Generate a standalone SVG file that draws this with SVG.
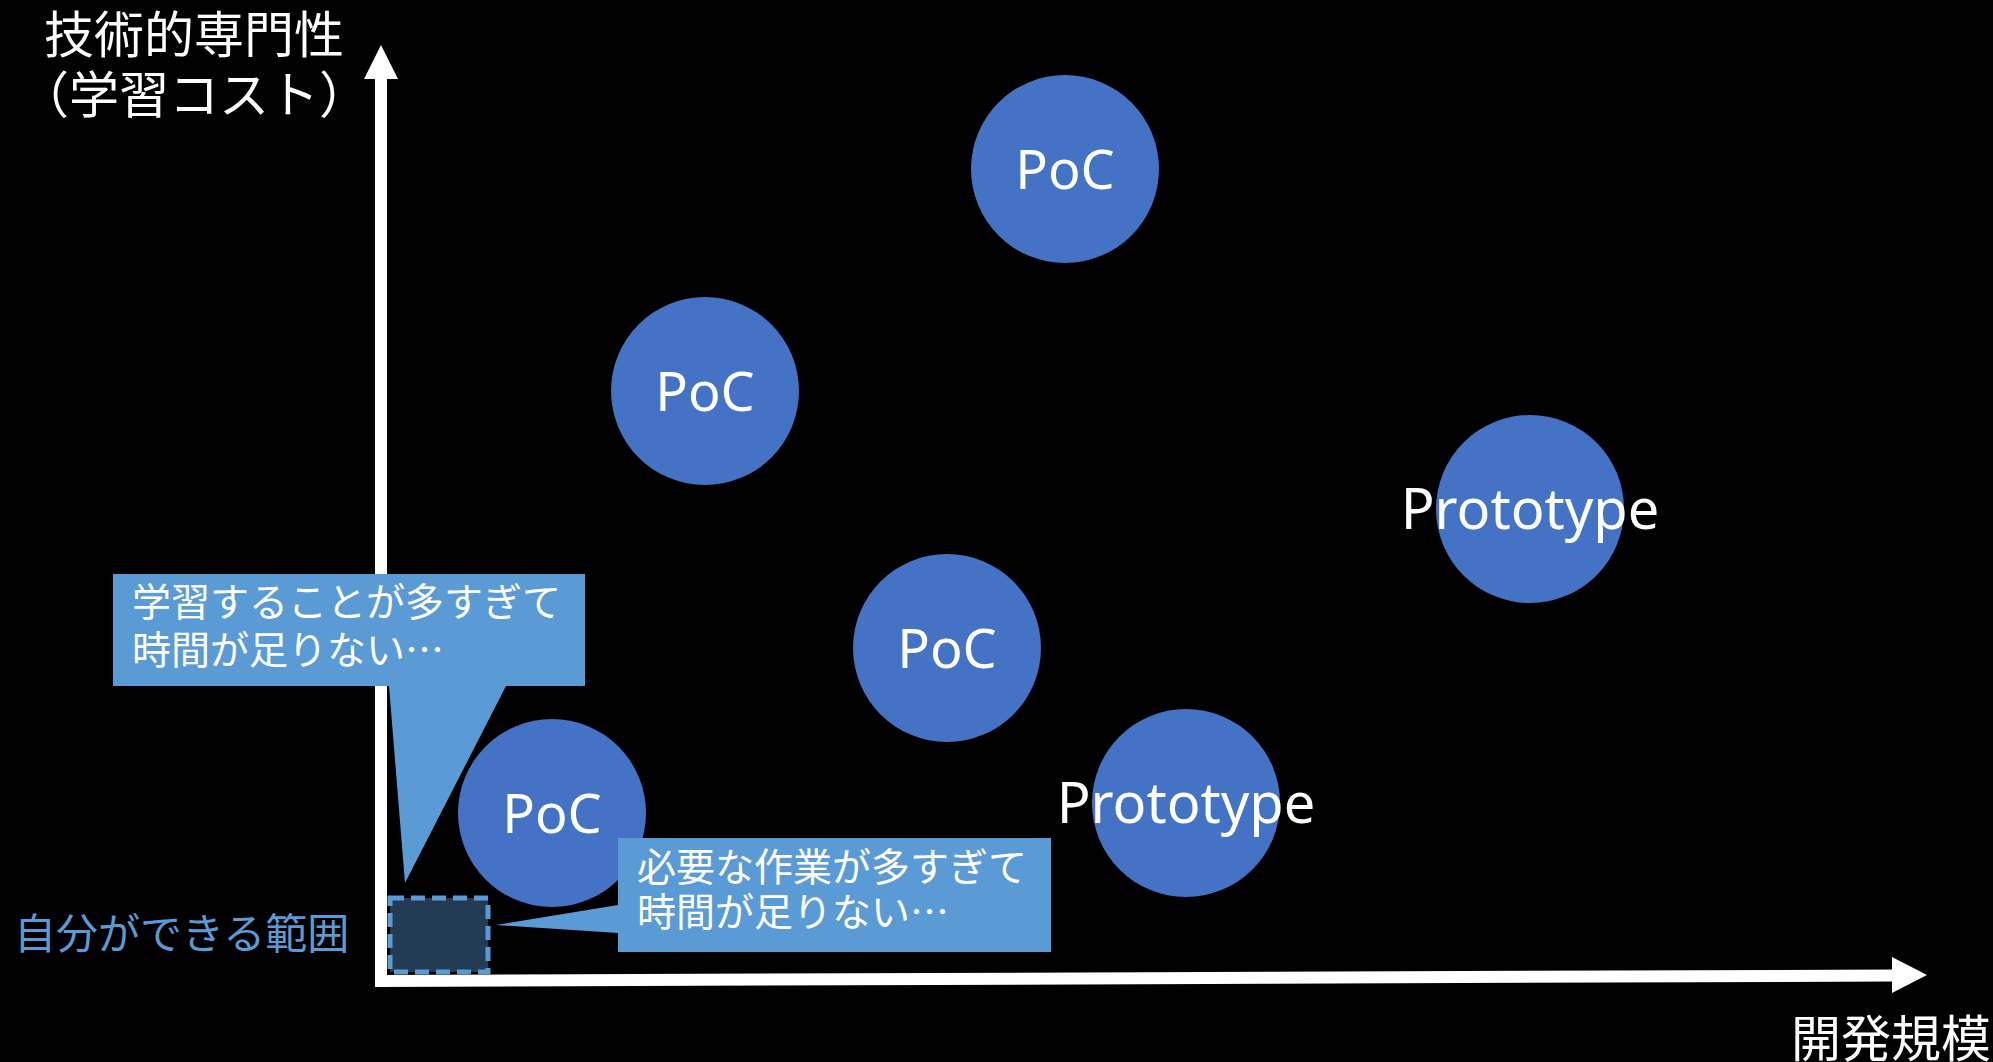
<svg xmlns="http://www.w3.org/2000/svg" width="1993" height="1062" viewBox="0 0 1993 1062">
<style>
.bg{fill:#000}
.node circle{fill:#4472C4}
.lbl{font-family:"Noto Sans","Open Sans",sans-serif;font-size:54px;fill:#fff;text-anchor:middle}
.lbl.wide{font-size:56px}
.jp{font-family:"Noto Sans CJK JP","Noto Sans",sans-serif;fill:#fff}
.callout{fill:#5B9BD5}
.axis{stroke:#fff;stroke-width:12;fill:none}
.head{fill:#fff}
</style>
<rect class="bg" x="0" y="0" width="1993" height="1062"/>
<g id="connectors">
  <line class="axis" x1="381" y1="987" x2="381" y2="75"/>
  <polygon class="head" points="381,45 364,79 398,79"/>
  <line class="axis" x1="375" y1="981" x2="1895" y2="975.5"/>
  <polygon class="head" points="1927,975 1892,957 1892,993"/>
</g>
<g id="axis-labels">
  <text class="jp" x="194" y="53" font-size="50" text-anchor="middle">技術的専門性</text>
  <text class="jp" x="194" y="113" font-size="50" text-anchor="middle">（学習コスト）</text>
  <text class="jp" x="1991" y="1057" font-size="50" text-anchor="end">開発規模</text>
</g>
<g id="node-poc-1" class="node"><circle cx="1065" cy="169" r="94"/><text class="lbl" x="1065" y="189">PoC</text></g>
<g id="node-poc-2" class="node"><circle cx="705" cy="391" r="94"/><text class="lbl" x="705" y="411">PoC</text></g>
<g id="node-prototype-1" class="node"><circle cx="1530" cy="509" r="94"/><text class="lbl wide" x="1530" y="529">Prototype</text></g>
<g id="node-poc-3" class="node"><circle cx="947" cy="648" r="94"/><text class="lbl" x="947" y="668">PoC</text></g>
<g id="node-prototype-2" class="node"><circle cx="1186" cy="803" r="94"/><text class="lbl wide" x="1186" y="823">Prototype</text></g>
<g id="node-poc-4" class="node"><circle cx="552" cy="813" r="94"/><text class="lbl" x="552" y="833">PoC</text></g>
<g id="node-own-range">
  <rect x="390" y="898" width="98" height="74" fill="#243C53" stroke="#5B9BD5" stroke-width="5" stroke-dasharray="14,7"/>
  <text x="14" y="949" font-family="Noto Sans CJK JP, Noto Sans, sans-serif" font-size="42" fill="#5B9BD5">自分ができる範囲</text>
</g>
<g id="callout-learning">
  <polygon class="callout" points="113,574 585,574 585,686 506,686 405,883 389,686 113,686"/>
  <text class="jp" x="132" y="616" font-size="39">学習することが多すぎて</text>
  <text class="jp" x="132" y="664" font-size="39">時間が足りない…</text>
</g>
<g id="callout-work">
  <polygon class="callout" points="618,838 1051,838 1051,952 618,952 618,933 496,925 618,905"/>
  <text class="jp" x="637" y="881" font-size="39">必要な作業が多すぎて</text>
  <text class="jp" x="637" y="926" font-size="39">時間が足りない…</text>
</g>
</svg>
